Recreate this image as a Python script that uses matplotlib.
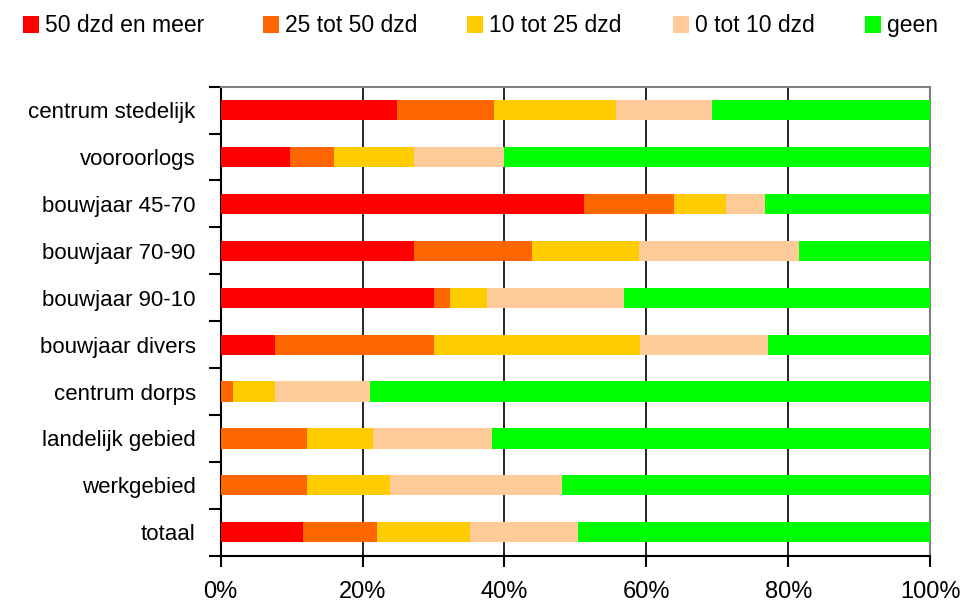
import numpy as np
import matplotlib.pyplot as plt
from matplotlib.patches import Rectangle

plt.rcParams['font.family'] = ['Liberation Sans', 'DejaVu Sans']

# categories, top to bottom
categories = ['centrum stedelijk', 'vooroorlogs', 'bouwjaar 45-70', 'bouwjaar 70-90',
              'bouwjaar 90-10', 'bouwjaar divers', 'centrum dorps', 'landelijk gebied',
              'werkgebied', 'totaal']

series_names = ['50 dzd en meer', '25 tot 50 dzd', '10 tot 25 dzd', '0 tot 10 dzd', 'geen']
series_colors = ['#ff0000', '#ff6600', '#ffcc00', '#ffcc99', '#00ff00']

# shares (%) per category
s50 = [24.9, 9.7, 51.2, 27.2, 30.0, 7.7, 0.0, 0.0, 0.0, 11.6]
s25 = [13.6, 6.2, 12.7, 16.7, 2.3, 22.3, 1.7, 12.2, 12.2, 10.5]
s10 = [17.2, 11.3, 7.4, 15.0, 5.3, 29.1, 6.0, 9.3, 11.6, 13.0]
s0 = [13.6, 12.7, 5.4, 22.6, 19.3, 18.1, 13.3, 16.7, 24.3, 15.3]
sgeen = [30.7, 60.1, 23.3, 18.5, 43.1, 22.8, 79.0, 61.8, 51.9, 49.6]

data = np.array([s50, s25, s10, s0, sgeen])
data = data / data.sum(axis=0) * 100  # 100% stacked

W, H = 963, 602
fig = plt.figure(figsize=(W / 100, H / 100), dpi=100)
ax = fig.add_axes([0.2292, 0.0769, 0.7366, 0.7791])

y = np.arange(len(categories))
left = np.zeros(len(categories))
for vals, name, col in zip(data, series_names, series_colors):
    ax.barh(y, vals, left=left, height=0.43, color=col, label=name, zorder=3)
    left += vals

ax.set_xlim(0, 100)
ax.set_ylim(len(categories) - 0.5, -0.5)

ax.set_xticks(np.arange(0, 101, 20))
ax.set_xticklabels(['{}%'.format(v) for v in range(0, 101, 20)], fontsize=17)
ax.set_yticks(y)
ax.set_yticklabels(categories, fontsize=16)
ax.set_yticks(np.arange(-0.5, len(categories), 1), minor=True)
ax.tick_params(axis='y', which='major', length=0, pad=18)
ax.tick_params(axis='y', which='minor', length=9, width=1.5, direction='out')
ax.tick_params(axis='x', length=8, width=1.5, direction='out', pad=10)

for v in [20, 40, 60, 80]:
    ax.axvline(v, color='black', linewidth=1.2, zorder=1)

ax.spines['left'].set_linewidth(1.5)
ax.spines['bottom'].set_linewidth(1.5)
for side in ['top', 'right']:
    ax.spines[side].set_color('#808080')
    ax.spines[side].set_linewidth(1.5)

# legend row across the top
legend_x = [23, 263, 467, 673, 865]
for lx, name, col in zip(legend_x, series_names, series_colors):
    fig.add_artist(Rectangle((lx / W, 1 - 33 / H), 16 / W, 17 / H,
                             transform=fig.transFigure, color=col, lw=0))
    fig.text((lx + 22) / W, 1 - 31.7 / H, name, fontsize=16.5, va='baseline', ha='left')

fig.savefig('out.png', dpi=100)
